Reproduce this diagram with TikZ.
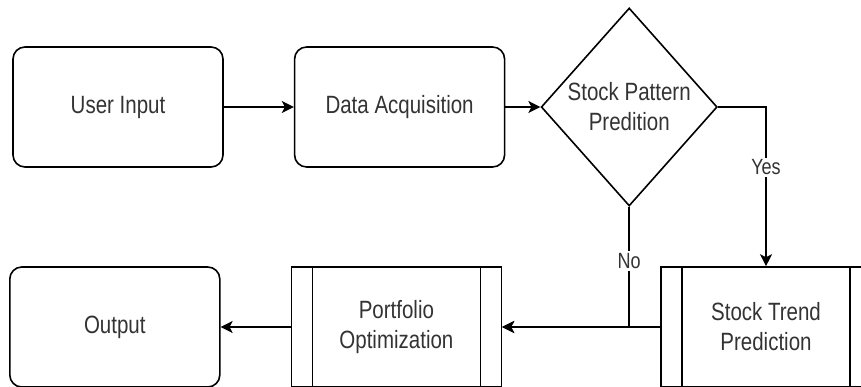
\documentclass[tikz,border=0pt]{standalone}
\usepackage{fontspec}
\setmainfont[FakeStretch=0.82]{Liberation Sans}
\usepackage{tikz}
\usetikzlibrary{shapes.geometric, arrows.meta, positioning}
\tikzset{
  stepbox/.style={rectangle, rounded corners=12pt, draw, line width=1.6pt, minimum width=210pt, minimum height=120pt, font=\fontsize{25}{30}\selectfont, text=black!80, align=center},
  subbox/.style={rectangle, draw, line width=1.6pt, minimum width=210pt, minimum height=120pt, font=\fontsize{25}{30}\selectfont, text=black!80, align=center,
    path picture={\draw[line width=1.6pt] ([xshift=21pt]path picture bounding box.north west) -- ([xshift=21pt]path picture bounding box.south west)
      ([xshift=-21pt]path picture bounding box.north east) -- ([xshift=-21pt]path picture bounding box.south east);}},
  decision/.style={diamond, draw, line width=1.6pt, minimum width=176pt, minimum height=198pt, inner sep=0pt, font=\fontsize{25}{30}\selectfont, text=black!80, align=center},
  arrow/.style={-{Stealth[length=12pt, width=12pt, inset=3pt]}, line width=1.6pt},
  edgelabel/.style={fill=white, inner sep=2pt, font=\fontsize{22}{26}\selectfont, text=black!80}
}
\begin{document}
\begin{tikzpicture}[x=1pt, y=-1pt]
  \useasboundingbox (0,0) rectangle (861,387);
  \clip (0,0) rectangle (861,387);
  \node[stepbox] (user) at (118,107) {User Input};
  \node[stepbox, right=70pt of user] (data) {Data Acquisition};
  \node[decision, right=35pt of data] (pattern) {Stock Pattern\\Predition};
  \node[subbox] (trend) at (766,327) {Stock Trend\\Prediction};
  \node[subbox, left=158pt of trend] (port) {Portfolio\\Optimization};
  \node[stepbox, left=70pt of port] (out) {Output};
  \draw[arrow] (user) -- (data);
  \draw[arrow] (data) -- (pattern);
  \draw[arrow] (pattern.east) -| node[edgelabel, pos=0.69] {Yes} (trend.north);
  \draw[arrow] (pattern.south) |- node[edgelabel, pos=0.225] {No} (port.east);
  \draw[arrow] (trend) -- (port);
  \draw[arrow] (port) -- (out);
\end{tikzpicture}
\end{document}
